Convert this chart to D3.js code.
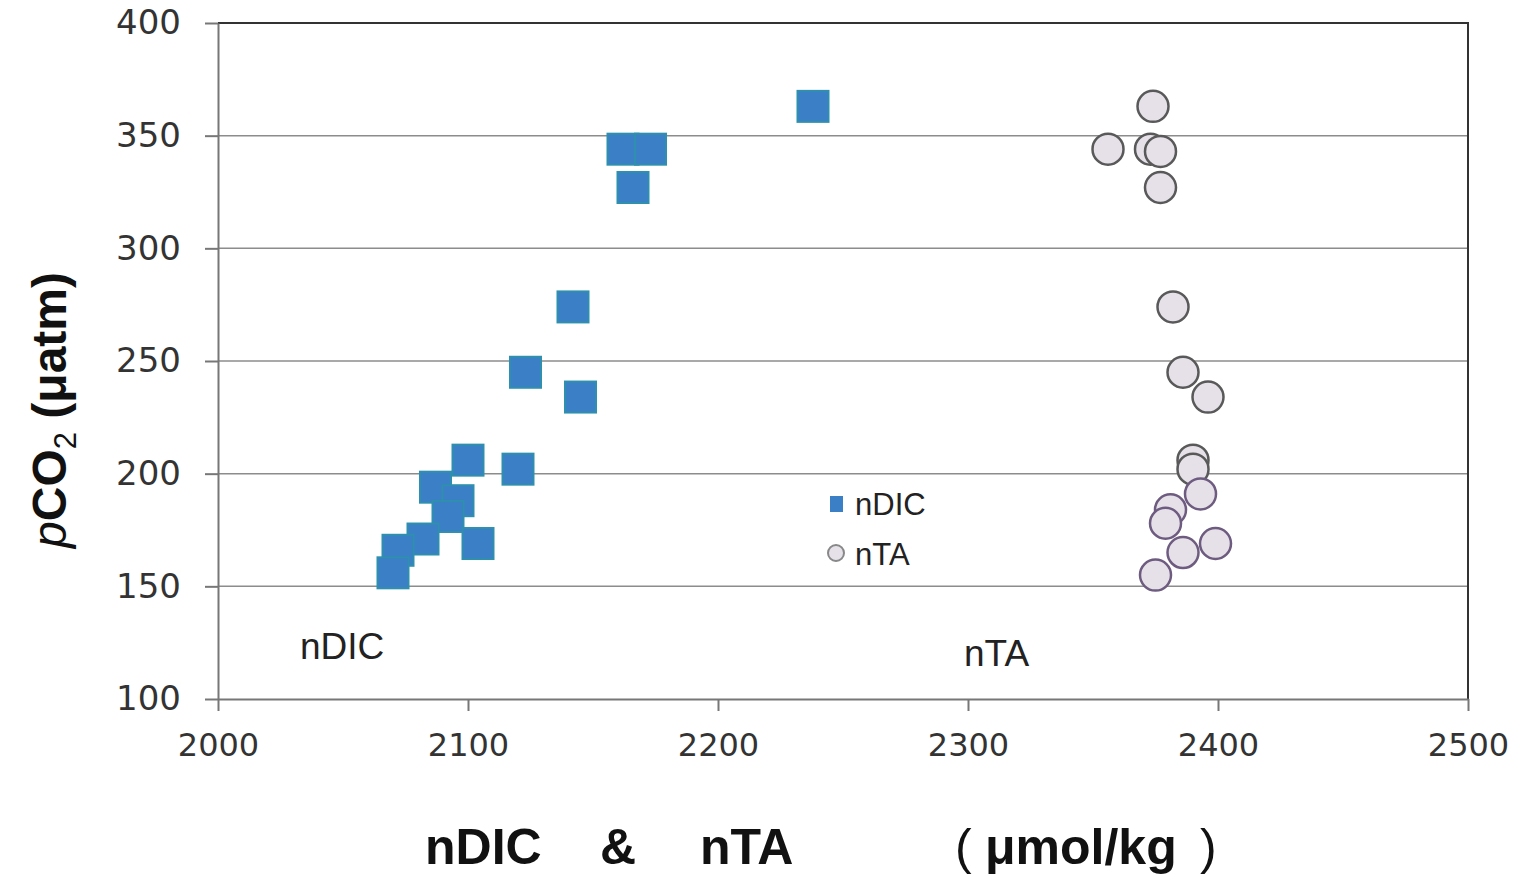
<!DOCTYPE html>
<html>
<head>
<meta charset="utf-8">
<script src="https://cdn.jsdelivr.net/npm/d3@7"></script>
<style>
  body { margin: 0; background: #fff; }
  #chart-container { width: 1518px; height: 876px; }
</style>
</head>
<body>
<div id="chart-container"></div>
<script>
const chartContainer = document.getElementById("chart-container");

// nDIC (squares) and nTA (circles), umol/kg vs pCO2 uatm
const ndicX = [2238, 2162, 2173, 2166, 2142, 2123, 2145, 2100, 2120, 2087, 2096, 2092, 2082, 2104, 2072, 2070];
const ndicY = [363, 344, 344, 327, 274, 245, 234, 206, 202, 194, 188, 181, 171, 169, 166, 156];
const ntaX = [2374, 2356, 2373, 2377, 2377, 2382, 2386, 2396, 2390, 2390, 2393, 2381, 2379, 2399, 2386, 2375];
const ntaY = [363, 344, 344, 343, 327, 274, 245, 234, 206, 202, 191, 184, 178, 169, 165, 155];

const xTicks = [2000, 2100, 2200, 2300, 2400, 2500];
const yTicks = [100, 150, 200, 250, 300, 350, 400];

const ndic = ndicX.map((v, i) => [v, ndicY[i]]);
const nta = ntaX.map((v, i) => [v, ntaY[i]]);

const width = 1518;
const height = 876;
const margin = { top: 23, right: 50, bottom: 177, left: 218 };
const graphWidth = width - margin.left - margin.right;
const graphHeight = height - margin.top - margin.bottom;

const svg = d3
  .select(chartContainer)
  .append("svg")
  .attr("width", width)
  .attr("height", height);

const graph = svg
  .append("g")
  .attr("transform", `translate(${margin.left}, ${margin.top})`);

const x = d3.scaleLinear().domain([2000, 2500]).range([0, graphWidth]);
const y = d3.scaleLinear().domain([100, 400]).range([graphHeight, 0]);

// gridlines
graph
  .append("g")
  .selectAll("line")
  .data(yTicks.slice(1, -1))
  .enter()
  .append("line")
  .attr("x1", 0)
  .attr("x2", graphWidth)
  .attr("y1", (d) => y(d))
  .attr("y2", (d) => y(d))
  .attr("stroke", "#8c8c8c")
  .attr("stroke-width", 1.5);

// top & right frame
graph
  .append("path")
  .attr("d", `M0,${y(400)}H${x(2500)}V${y(100)}`)
  .attr("fill", "none")
  .attr("stroke", "#333")
  .attr("stroke-width", 2);

const gXAxis = graph.append("g").attr("transform", `translate(0, ${graphHeight})`);
const gYAxis = graph.append("g");

const xAxis = d3.axisBottom(x).tickValues(xTicks).tickSize(12).tickSizeOuter(0).tickPadding(22).tickFormat((d) => d);
const yAxis = d3.axisLeft(y).tickValues(yTicks).tickSize(13).tickSizeOuter(0).tickPadding(24).tickFormat((d) => d);

gXAxis.call(xAxis);
gYAxis.call(yAxis);

[gXAxis, gYAxis].forEach((g) => {
  g.select(".domain").attr("stroke", "#777").attr("stroke-width", 2);
  g.selectAll(".tick line").attr("stroke", "#777").attr("stroke-width", 2);
  g.selectAll("text")
    .style("font-family", "DejaVu Sans, sans-serif")
    .style("font-size", "34px")
    .attr("fill", "#333");
});
gXAxis.selectAll("text").style("font-size", "32px");

// nDIC squares
const sq = 31;
graph
  .append("g")
  .selectAll("rect")
  .data(ndic)
  .enter()
  .append("rect")
  .attr("x", (d) => x(d[0]) - sq / 2)
  .attr("y", (d) => y(d[1]) - sq / 2)
  .attr("width", sq)
  .attr("height", sq)
  .attr("fill", "#3b7fc6")
  .attr("stroke", "#2f8fae")
  .attr("stroke-width", 2);

// nTA circles
graph
  .append("g")
  .selectAll("circle")
  .data(nta)
  .enter()
  .append("circle")
  .attr("cx", (d) => x(d[0]))
  .attr("cy", (d) => y(d[1]))
  .attr("r", 15.5)
  .attr("fill", "#e6e1e8")
  .attr("stroke", (d) => (d[1] < 200 ? "#6e5c80" : "#595959"))
  .attr("stroke-width", 2.5);

// legend
const legend = svg.append("g");
legend
  .append("rect")
  .attr("x", 830)
  .attr("y", 496)
  .attr("width", 13)
  .attr("height", 16)
  .attr("fill", "#3b7fc6");
legend
  .append("circle")
  .attr("cx", 836)
  .attr("cy", 553)
  .attr("r", 8)
  .attr("fill", "#e6e1e8")
  .attr("stroke", "#888")
  .attr("stroke-width", 2);
legend
  .selectAll("text")
  .data(["nDIC", "nTA"])
  .enter()
  .append("text")
  .attr("x", 855)
  .attr("y", (d, i) => 515 + i * 50)
  .text((d) => d)
  .style("font-family", "Liberation Sans, Arial, sans-serif")
  .style("font-size", "31px")
  .attr("fill", "#222");

// series labels in plot
const notes = [
  ["nDIC", 300, 659],
  ["nTA", 964, 666],
];
svg
  .append("g")
  .selectAll("text")
  .data(notes)
  .enter()
  .append("text")
  .attr("x", (d) => d[1])
  .attr("y", (d) => d[2])
  .text((d) => d[0])
  .style("font-family", "Liberation Sans, Arial, sans-serif")
  .style("font-size", "37px")
  .attr("fill", "#222");

// x title
const xTitle = [
  ["nDIC", 425, "50px"],
  ["&", 600, "50px"],
  ["nTA", 700, "50px"],
  ["(", 955, "50px"],
  ["μmol/kg", 985, "50px"],
  [")", 1200, "50px"],
];
svg
  .append("g")
  .selectAll("text")
  .data(xTitle)
  .enter()
  .append("text")
  .attr("x", (d) => d[1])
  .attr("y", 864)
  .text((d) => d[0])
  .style("font-family", "Liberation Sans, Arial, sans-serif")
  .style("font-size", (d) => d[2])
  .style("font-weight", (d) => (d[0] === "(" || d[0] === ")" ? "normal" : "bold"))
  .attr("fill", "#111");

// y title
const yTitle = svg
  .append("text")
  .attr("transform", "translate(66, 410) rotate(-90)")
  .attr("text-anchor", "middle")
  .style("font-family", "Liberation Sans, Arial, sans-serif")
  .style("font-size", "48px")
  .style("font-weight", "bold")
  .attr("fill", "#111");
yTitle.append("tspan").text("p").style("font-style", "italic").style("font-weight", "normal");
yTitle.append("tspan").text("CO");
yTitle.append("tspan").text("2").attr("dy", 10).style("font-size", "31px").style("font-weight", "normal");
yTitle.append("tspan").text(" (μatm)").attr("dy", -10);
</script>
</body>
</html>
